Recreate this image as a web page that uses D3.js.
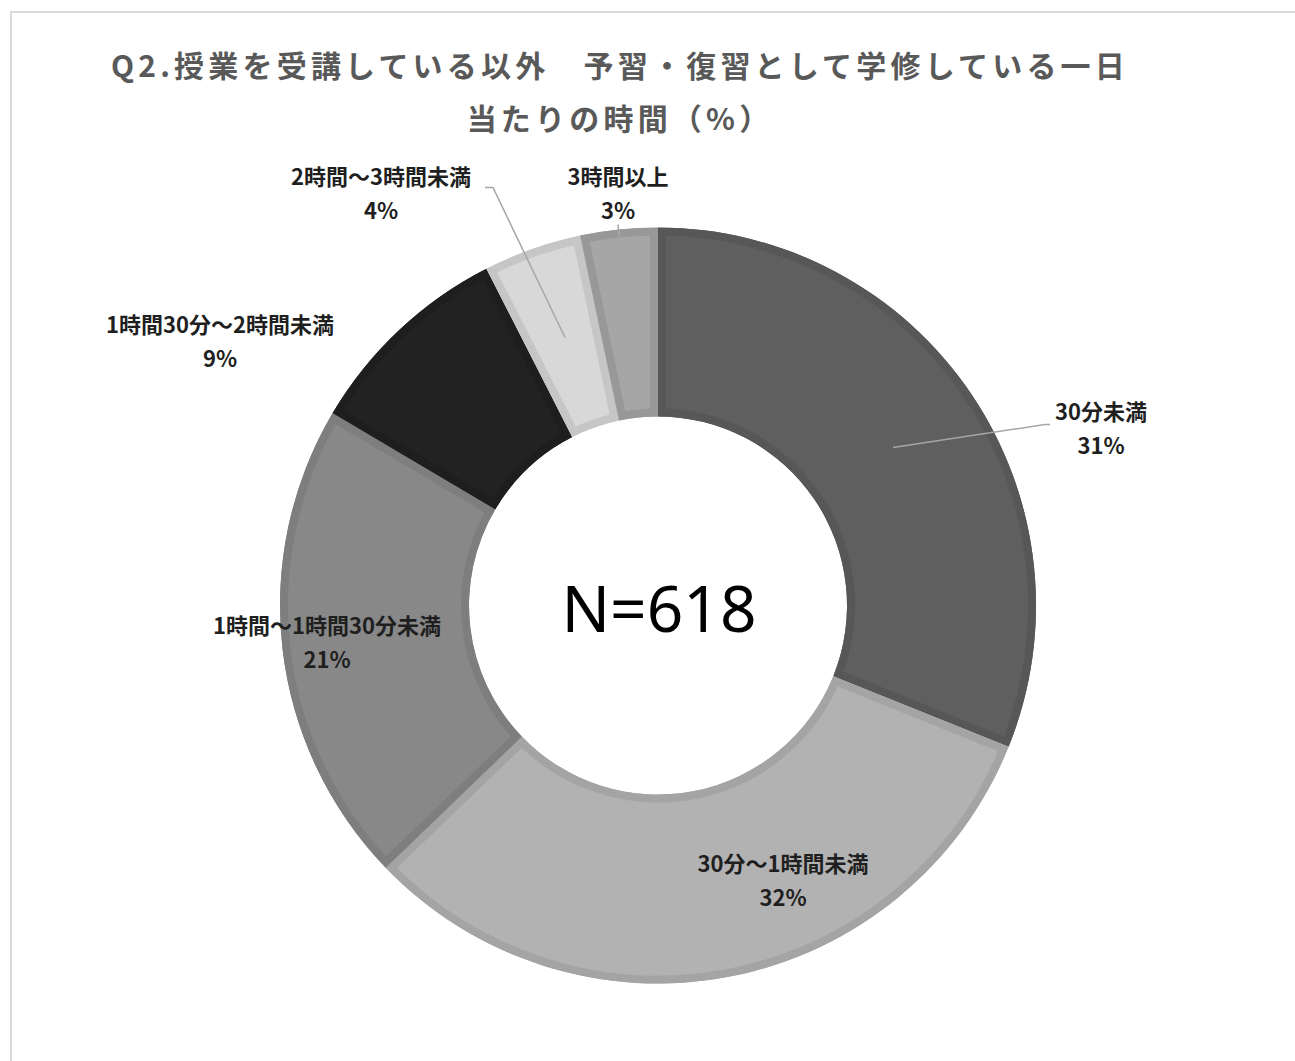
<!DOCTYPE html>
<html>
<head>
<meta charset="utf-8">
<script src="https://cdn.jsdelivr.net/npm/d3@7/dist/d3.min.js"></script>
<style>
html,body{margin:0;padding:0;background:#fff;}
svg{display:block;}
</style>
</head>
<body>
<svg id="chart" width="1295" height="1061"></svg>
<script>
// ---- data ----
const categories = ["30分未満", "30分～1時間未満", "1時間～1時間30分未満", "1時間30分～2時間未満", "2時間～3時間未満", "3時間以上"];
const values = [31.1, 31.7, 20.7, 9.0, 4.2, 3.3];
const titleLines = ["Q2.授業を受講している以外　予習・復習として学修している一日", "当たりの時間（%）"];
const centerText = "N=618";

// ---- styles / layout ----
const fills   = ["#5f5f5f", "#b2b2b2", "#888888", "#222222", "#d8d8d8", "#a6a6a6"];
const borders = ["#575757", "#a4a4a4", "#7e7e7e", "#1e1e1e", "#c6c6c6", "#989898"];
const cx = 658, cy = 605.5, R = 378, r = 189, bw = 8;
// label anchor (center x, baseline of first line) relative to donut center
const labelPos = [[443, -186], [125, 266], [-331, 28], [-438, -273], [-277, -421], [-40, -421]];
// leader lines relative to donut center (null = none)
const leaders = [
  [[235, -158], [387, -181], [392, -181]],
  null, null, null,
  [[-173, -418], [-165, -418], [-93, -268]],
  [[-40, -381], [-29, -282]]
];

const svg = d3.select("#chart");

// frame
svg.append("rect").attr("x", 11).attr("y", 12).attr("width", 1320).attr("height", 1100)
  .attr("fill", "#fff").attr("stroke", "#d9d9d9").attr("stroke-width", 2);

// title
const title = svg.append("text")
  .attr("text-anchor", "middle")
  .attr("font-family", "'Noto Sans CJK JP', sans-serif")
  .attr("font-weight", "bold")
  .attr("font-size", 30)
  .attr("letter-spacing", 4.2)
  .attr("fill", "#595959");
titleLines.forEach((t, i) => {
  title.append("tspan").attr("x", 620).attr("y", 77 + i * 53).text(t);
});

// donut
const pie = d3.pie().sort(null).value(d => d)(values);
const arc = d3.arc().innerRadius(r).outerRadius(R);
const g = svg.append("g").attr("transform", `translate(${cx},${cy})`);
const defs = svg.append("defs");

pie.forEach((p, i) => {
  defs.append("clipPath").attr("id", "clip" + i)
    .append("path").attr("d", arc(p));
  g.append("path").attr("d", arc(p)).attr("fill", fills[i]);
  g.append("path").attr("d", arc(p))
    .attr("fill", "none")
    .attr("stroke", borders[i])
    .attr("stroke-width", bw * 2)
    .attr("stroke-linejoin", "miter")
    .attr("clip-path", `url(#clip${i})`);
});

// leader lines
const line = d3.line();
leaders.forEach((l) => {
  if (!l) return;
  g.append("path").attr("d", line(l)).attr("fill", "none")
    .attr("stroke", "#a6a6a6").attr("stroke-width", 1.5);
});

// labels
pie.forEach((p, i) => {
  const t = g.append("text")
    .attr("text-anchor", "middle")
    .attr("font-family", "'Noto Sans CJK JP', sans-serif")
    .attr("font-weight", "bold")
    .attr("font-size", 22)
    .attr("fill", "#1f1f1f");
  t.append("tspan").attr("x", labelPos[i][0]).attr("y", labelPos[i][1]).text(categories[i]);
  t.append("tspan").attr("x", labelPos[i][0]).attr("y", labelPos[i][1] + 34).text(Math.round(values[i]) + "%");
});

// center text
g.append("text").attr("text-anchor", "middle")
  .attr("x", 1).attr("y", 26)
  .attr("font-family", "'Noto Sans', sans-serif")
  .attr("font-size", 64)
  .attr("fill", "#000")
  .text(centerText);
</script>
</body>
</html>
